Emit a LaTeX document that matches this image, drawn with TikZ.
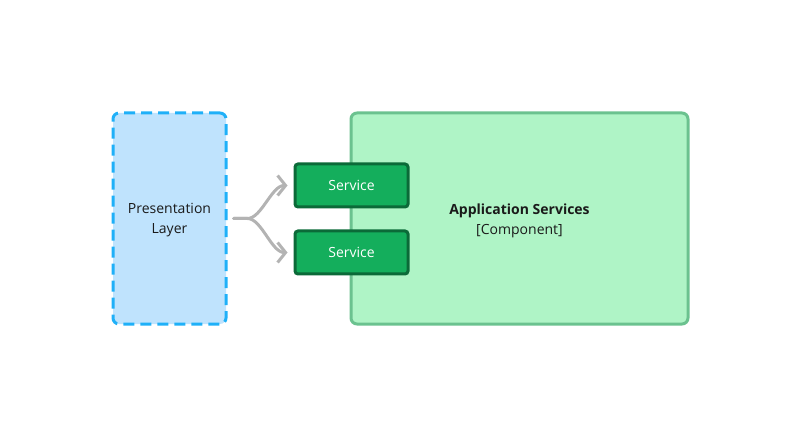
\documentclass[tikz,border=0pt]{standalone}
\usepackage{fontspec}
\setmainfont{Open Sans}
\usetikzlibrary{arrows.meta}
\definecolor{plfill}{HTML}{BFE3FD}
\definecolor{plline}{HTML}{1FB0F8}
\definecolor{asfill}{HTML}{AFF4C6}
\definecolor{asline}{HTML}{6BC28F}
\definecolor{svfill}{HTML}{14AE5C}
\definecolor{svline}{HTML}{0B6A38}
\definecolor{txt}{HTML}{1A1A1A}
\definecolor{arr}{HTML}{B3B3B3}
\begin{document}
\begin{tikzpicture}[x=1pt,y=-1pt,
  every node/.style={font=\fontsize{14}{17}\selectfont, text=txt, align=center, inner sep=0pt},
  layerbox/.style={draw=plline, fill=plfill, line width=3pt, dash pattern=on 11pt off 6pt, rounded corners=6pt, minimum width=113pt, minimum height=211pt},
  compbox/.style={draw=asline, fill=asfill, line width=3pt, rounded corners=6pt, minimum width=337pt, minimum height=211pt},
  svcbox/.style={draw=svline, fill=svfill, line width=3pt, rounded corners=3pt, minimum width=113pt, minimum height=43pt, text=white},
  lbl/.style={font=\fontsize{14}{17}\selectfont, text=txt, align=center},
  flow/.style={draw=arr, line width=3pt, line cap=round, line join=round, -{Straight Barb[length=8pt, width=20pt, line width=3pt]}}
]
\useasboundingbox (0,0) rectangle (800,438);
\node[layerbox] (pl) at (169.5,218.5) {};
\node[lbl] (pltext) at (169.5,220.5) {Presentation\\[3pt]Layer};
\node[compbox] (as) at (519.5,218.5) {};
\node[lbl] (astext) at (519.5,220.5) {\textbf{Application Services}\\[3pt][Component]};
\node[svcbox] (s1) at (351.5,185.5) {Service};
\node[svcbox] (s2) at (351.5,252.5) {Service};
\coordinate (fork) at ([xshift=20pt]pl.east);
\draw[flow] ([xshift=6pt]pl.east) -- (fork) .. controls +(14,0) and +(-16,0) .. ([xshift=-6pt]s1.west);
\draw[flow] ([xshift=6pt]pl.east) -- (fork) .. controls +(14,0) and +(-16,0) .. ([xshift=-6pt]s2.west);
\end{tikzpicture}
\end{document}
